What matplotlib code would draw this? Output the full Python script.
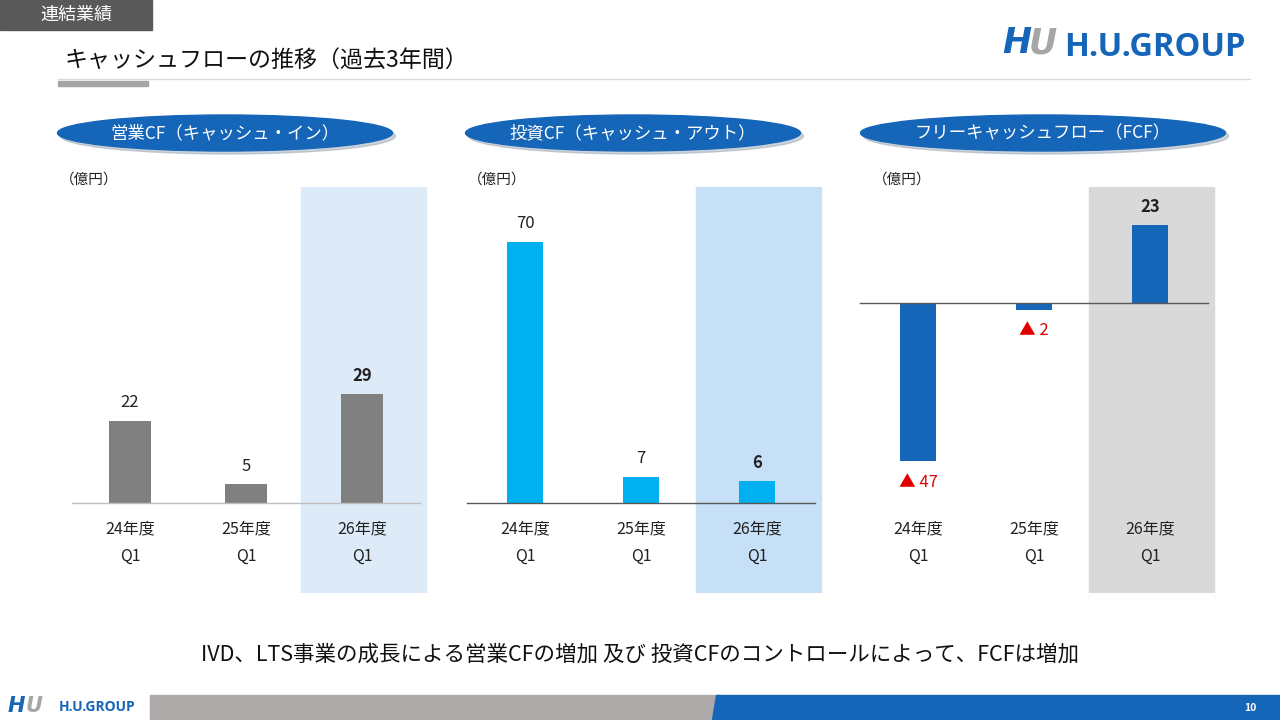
import matplotlib
matplotlib.use('Agg')
import matplotlib.pyplot as plt
from matplotlib.patches import Rectangle, Ellipse, Polygon

plt.rcParams['font.family'] = ['Noto Sans CJK JP', 'DejaVu Sans']

# data
periods = ['24年度', '25年度', '26年度']
quarter = 'Q1'
op_cf = [22, 5, 29]
inv_cf = [70, 7, 6]
fcf = [-47, -2, 23]
panel_titles = ['営業CF（キャッシュ・イン）', '投資CF（キャッシュ・アウト）', 'フリーキャッシュフロー（FCF）']
unit = '（億円）'
title = 'キャッシュフローの推移（過去3年間）'
section = '連結業績'
summary = 'IVD、LTS事業の成長による営業CFの増加 及び 投資CFのコントロールによって、FCFは増加'
page_no = '10'

W, H = 1280, 720
fig = plt.figure(figsize=(12.8, 7.2), dpi=100)

# background decorations in pixel coordinates
bg = fig.add_axes([0, 0, 1, 1])
bg.set_xlim(0, W)
bg.set_ylim(H, 0)
bg.axis('off')

bg.add_patch(Rectangle((0, 0), 152, 30, color='#595959'))
bg.text(76, 15, section, color='white', fontsize=13, ha='center', va='center')
bg.text(65, 60, title, color='#111111', fontsize=16.6, ha='left', va='center')
bg.plot([58, 1250], [79, 79], color='#d9d9d9', lw=1)
bg.add_patch(Rectangle((58, 81), 90, 5, color='#a6a6a6'))

# logo
bg.text(1002, 43, 'H', color='#1565b8', fontsize=25, fontweight='bold', style='italic',
        ha='left', va='center', family='DejaVu Sans')
bg.text(1029, 43, 'U', color='#a6a6a6', fontsize=25, fontweight='bold', style='italic',
        ha='left', va='center', family='DejaVu Sans')
bg.text(1064, 47, 'H.U.GROUP', color='#1565b8', fontsize=23.5, fontweight='bold',
        ha='left', va='center', family='Open Sans')

# footer
bg.add_patch(Rectangle((150, 695), 570, 25, color='#aeaaaa'))
bg.add_patch(Polygon([(716, 695), (W, 695), (W, H), (712, H)], color='#1565b8'))
bg.text(1250, 708, page_no, color='white', fontsize=7.5, fontweight='bold', ha='center', va='center')
bg.text(8, 706, 'H', color='#1565b8', fontsize=15, fontweight='bold', style='italic',
        ha='left', va='center', family='DejaVu Sans')
bg.text(26, 706, 'U', color='#a6a6a6', fontsize=15, fontweight='bold', style='italic',
        ha='left', va='center', family='DejaVu Sans')
bg.text(59, 707, 'H.U.GROUP', color='#1565b8', fontsize=10, fontweight='bold',
        ha='left', va='center', family='Open Sans')

bg.text(640, 655, summary, color='#111111', fontsize=15.5, ha='center', va='center')

# panel headers
ell_specs = [(225, 335), (633, 335), (1043, 365)]
for (cx, ew), txt in zip(ell_specs, panel_titles):
    bg.add_patch(Ellipse((cx + 3, 136), ew, 36, color='#9aa7b5', alpha=0.5))
    bg.add_patch(Ellipse((cx, 133), ew, 36, color='#1565b8'))
    bg.text(cx, 133, txt, color='white', fontsize=12.5, ha='center', va='center')

unit_x = [60, 468, 873]
for ux in unit_x:
    bg.text(ux, 180, unit, color='#222222', fontsize=10.5, ha='left', va='center')

# chart panels
spacing = 116
top, bottom = 187, 593
panels = [
    dict(c0=130, vals=op_cf, color='#808080', hl='#ddebf8', base=503, scale=3.75,
         width=0.36, line='#bfbfbf'),
    dict(c0=525, vals=inv_cf, color='#00b0f0', hl='#c5e0f7', base=503, scale=3.73,
         width=0.31, line='#595959'),
    dict(c0=918, vals=fcf, color='#1565b8', hl='#d9d9d9', base=303, scale=3.37,
         width=0.31, line='#595959'),
]

for p in panels:
    left_px = p['c0'] - 75
    right_px = p['c0'] + 2 * spacing + 80
    ax = fig.add_axes([left_px / W, 1 - bottom / H, (right_px - left_px) / W, (bottom - top) / H])
    ax.set_xlim(-75 / spacing, 2 + 80 / spacing)
    ax.set_ylim(-(bottom - p['base']) / p['scale'], (p['base'] - top) / p['scale'])
    ax.axis('off')

    ax.axvspan(2 - 0.525, 2 + 0.55, color=p['hl'], zorder=0)
    xs = list(range(len(p['vals'])))
    ax.bar(xs, p['vals'], width=p['width'], color=p['color'], zorder=2)
    ax.plot([-0.5, 2.5], [0, 0], color=p['line'], lw=1, zorder=3)

    for i, v in enumerate(p['vals']):
        bold = 'bold' if i == 2 else 'normal'
        if v >= 0:
            ax.annotate(str(v), (i, v), xytext=(0, 13), textcoords='offset points',
                        ha='center', va='center', fontsize=12, fontweight=bold, color='#222222')
        else:
            ax.annotate('▲ ' + str(-v), (i, v), xytext=(0, -15), textcoords='offset points',
                        ha='center', va='center', fontsize=12, color='#e00000')
        ax.text(i, (bottom - 529) / (bottom - top), periods[i], transform=ax.get_xaxis_transform(),
                ha='center', va='center', fontsize=11.5, color='#222222')
        ax.text(i, (bottom - 556) / (bottom - top), quarter, transform=ax.get_xaxis_transform(),
                ha='center', va='center', fontsize=11.5, color='#222222')

fig.savefig('out.png', dpi=100)
